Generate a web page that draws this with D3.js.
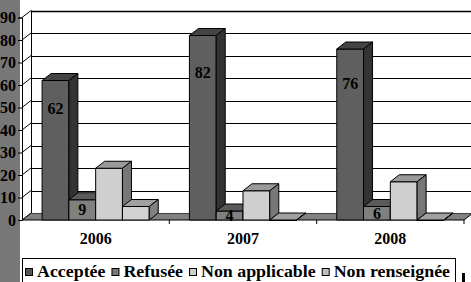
<!DOCTYPE html>
<html>
<head>
<meta charset="utf-8">
<script src="https://cdn.jsdelivr.net/npm/d3@7"></script>
<style>
  body { margin: 0; background: #fff; }
</style>
</head>
<body>
<div id="chart"></div>
<script>
// values
var categories = ["2006", "2007", "2008"];
var seriesNames = ["Acceptée", "Refusée", "Non applicable", "Non renseignée"];
var acceptee = [62, 82, 76];
var refusee = [9, 4, 6];
var nonApplicable = [23, 13, 17];
var nonRenseignee = [6, 0, 0];
var yTicks = [0, 10, 20, 30, 40, 50, 60, 70, 80, 90];
var showLabels = [true, true, false, false];

var seriesValues = [acceptee, refusee, nonApplicable, nonRenseignee];
var FONT = "Liberation Serif";
// front / top / side shades per series
var shades = [
    {front: "#5f5f5f", top: "#444", side: "#333", key: "#555"},
    {front: "#808080", top: "#5a5a5a", side: "#555", key: "#777"},
    {front: "#cfcfcf", top: "#9a9a9a", side: "#777", key: "#ccc"},
    {front: "#d2d2d2", top: "#a0a0a0", side: "#808080", key: "#bbb"}
];

var W = 471, H = 282;
var depth = {x: 9, y: -7};
var plot = {left: 22, right: 464, top: 17.5, bottom: 220};

var svg = d3.select("#chart").append("svg")
    .attr("width", W)
    .attr("height", H);

function serif(sel, size) {
    sel.attr("font-family", FONT).style("font-family", FONT)
        .attr("font-weight", "bold").style("font-weight", "bold")
        .attr("font-size", size).style("font-size", size + "px")
        .attr("fill", "#000");
}

// grey strip on the left edge
svg.append("rect").attr("x", 0).attr("y", 0).attr("width", 20).attr("height", H).attr("fill", "#777");

var x = d3.scaleBand()
    .domain(categories)
    .range([plot.left, plot.right])
    .paddingInner(0)
    .paddingOuter(0);

var xs = d3.scaleBand()
    .domain(seriesNames)
    .range([0, x.bandwidth()])
    .paddingInner(0)
    .paddingOuter(0.75);

var y = d3.scaleLinear()
    .domain([0, 90])
    .range([plot.bottom, plot.top]);

function pts(a) { return a.map(function (p) { return p[0] + "," + p[1]; }).join(" "); }

// floor
svg.append("polygon")
    .attr("points", pts([[plot.left, plot.bottom], [plot.right, plot.bottom],
        [plot.right + depth.x, plot.bottom + depth.y], [plot.left + depth.x, plot.bottom + depth.y]]))
    .attr("fill", "#808080").attr("stroke", "#000").attr("stroke-width", 1);

// back wall
svg.append("rect")
    .attr("x", plot.left + depth.x)
    .attr("y", y(90) + depth.y)
    .attr("width", plot.right - plot.left)
    .attr("height", plot.bottom - y(90))
    .attr("fill", "#fff");

// left wall
svg.append("polygon")
    .attr("points", pts([[plot.left, plot.bottom], [plot.left, y(90)],
        [plot.left + depth.x, y(90) + depth.y], [plot.left + depth.x, plot.bottom + depth.y]]))
    .attr("fill", "#fff");

// gridlines on back and left walls
var grid = svg.append("g").attr("stroke", "#000");
grid.selectAll(".gback").data(yTicks.filter(function (d) { return d > 0; }))
    .enter().append("line")
    .attr("x1", plot.left + depth.x).attr("x2", W + 5)
    .attr("y1", function (d) { return Math.round(y(d) + depth.y) + 0.5; })
    .attr("y2", function (d) { return Math.round(y(d) + depth.y) + 0.5; })
    .attr("stroke-width", function (d) { return d === 90 ? 1.5 : 1; });
grid.selectAll(".gside").data(yTicks)
    .enter().append("line")
    .attr("x1", plot.left).attr("x2", plot.left + depth.x)
    .attr("y1", function (d) { return y(d); })
    .attr("y2", function (d) { return y(d) + depth.y; });
grid.append("line")
    .attr("x1", plot.left + depth.x + 0.5).attr("x2", plot.left + depth.x + 0.5)
    .attr("y1", y(90) + depth.y).attr("y2", plot.bottom + depth.y);

// bars
var bars = [];
categories.forEach(function (c, ci) {
    seriesNames.forEach(function (s, si) {
        bars.push({cat: c, si: si, value: seriesValues[si][ci]});
    });
});

var barG = svg.append("g").attr("stroke", "#000").attr("stroke-width", 1).attr("stroke-linejoin", "round");
bars.forEach(function (b) {
    var x0 = x(b.cat) + xs(seriesNames[b.si]);
    var w = xs.bandwidth();
    var yt = y(b.value), yb = y(0);
    var col = shades[b.si];
    barG.append("rect")
        .attr("x", x0).attr("y", yt).attr("width", w).attr("height", Math.max(yb - yt, 0.5))
        .attr("fill", col.front);
    barG.append("polygon")
        .attr("points", pts([[x0, yt], [x0 + w, yt], [x0 + w + depth.x, yt + depth.y], [x0 + depth.x, yt + depth.y]]))
        .attr("fill", col.top);
    barG.append("polygon")
        .attr("points", pts([[x0 + w, yt], [x0 + w + depth.x, yt + depth.y], [x0 + w + depth.x, yb + depth.y], [x0 + w, yb]]))
        .attr("fill", col.side);
});

// value labels
svg.append("g").selectAll("text")
    .data(bars.filter(function (b) { return showLabels[b.si]; }))
    .enter().append("text")
    .attr("x", function (b) { return x(b.cat) + xs(seriesNames[b.si]) + xs.bandwidth() / 2; })
    .attr("y", function (b) { return y(b.value * (b.value > 30 ? 0.8 : 0.5)); })
    .attr("dy", "0.35em")
    .attr("text-anchor", "middle")
    .text(function (b) { return b.value; })
    .call(serif, 16);

// y axis
var yAxis = svg.append("g")
    .attr("transform", "translate(" + plot.left + ",0)")
    .call(d3.axisLeft(y).tickValues(yTicks).tickSize(4).tickPadding(2));
yAxis.select(".domain").attr("stroke", "#000");
yAxis.selectAll("text").call(serif, 16);

// x axis: labels centred, ticks on category boundaries
var xAxis = svg.append("g")
    .attr("transform", "translate(0," + plot.bottom + ")")
    .call(d3.axisBottom(x).tickSize(0).tickPadding(13));
xAxis.select(".domain").remove();
xAxis.selectAll("text").call(serif, 16);
svg.append("g").selectAll("line")
    .data(categories)
    .enter().append("line")
    .attr("x1", function (d) { return x(d) + x.bandwidth(); })
    .attr("x2", function (d) { return x(d) + x.bandwidth(); })
    .attr("y1", plot.bottom).attr("y2", plot.bottom + 4)
    .attr("stroke", "#000");

// legend
var legend = {left: 22, right: 455, top: 258.5};
svg.append("rect")
    .attr("x", legend.left + 0.5).attr("y", legend.top)
    .attr("width", legend.right - legend.left).attr("height", 40)
    .attr("fill", "#fff").attr("stroke", "#000");

var lg = svg.append("g");
var items = lg.selectAll("g").data(seriesNames).enter().append("g");
items.append("text")
    .attr("y", 277)
    .text(function (d) { return d; })
    .call(serif, 16);
var natural = [];
items.select("text").each(function () { natural.push(this.getComputedTextLength()); });
var swatch = 8, gapAfterSwatch = 4, gapItems = 6;
var avail = 450 - 25 - seriesNames.length * (swatch + gapAfterSwatch) - (seriesNames.length - 1) * gapItems;
var k = avail / d3.sum(natural);
var cx = 25;
items.each(function (d, i) {
    var g = d3.select(this);
    g.insert("rect", "text")
        .attr("x", cx + 0.5).attr("y", 268.5)
        .attr("width", swatch - 1).attr("height", swatch - 1)
        .attr("fill", shades[i].key).attr("stroke", "#000");
    g.select("text")
        .attr("x", cx + swatch + gapAfterSwatch)
        .attr("textLength", natural[i] * k)
        .attr("lengthAdjust", "spacingAndGlyphs");
    cx += swatch + gapAfterSwatch + natural[i] * k + gapItems;
});

// small mark at the lower right corner
svg.append("rect").attr("x", 462).attr("y", 273).attr("width", 3).attr("height", 9).attr("fill", "#000");
</script>
</body>
</html>
